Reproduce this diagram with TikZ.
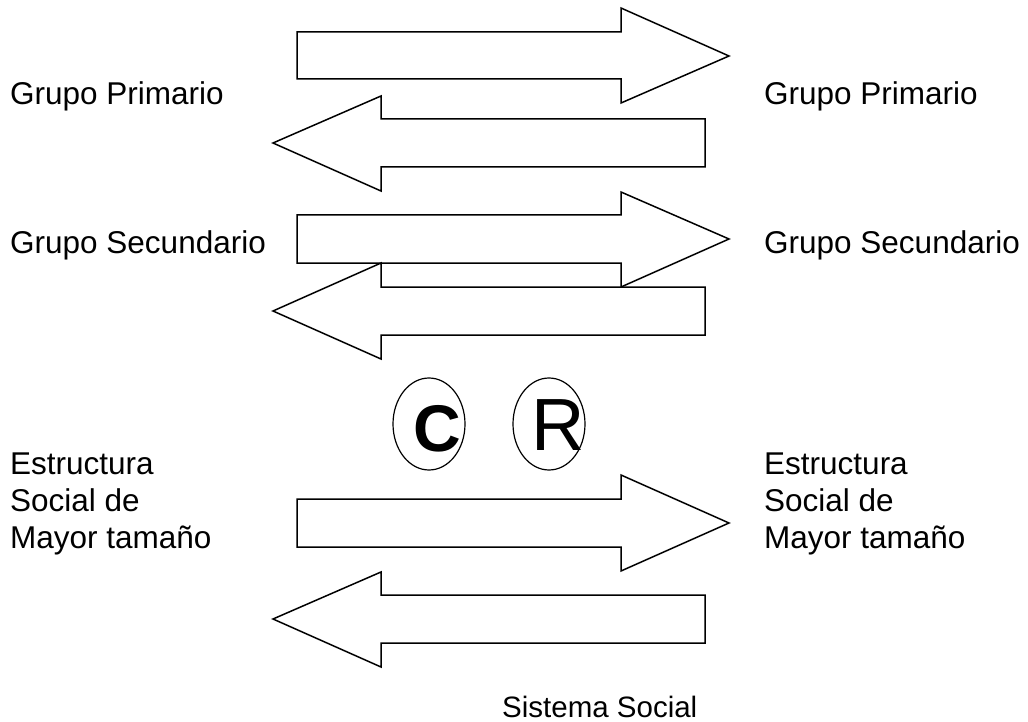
\documentclass[tikz,border=0pt]{standalone}
\usepackage{fontspec}
\setmainfont{Liberation Sans}
\begin{document}
\begin{tikzpicture}[x=1pt,y=-1pt,
  arrowshape/.style={draw=black,fill=white,line width=1.5pt,line join=miter},
  lbl/.style={anchor=base west,inner sep=0pt,font=\fontsize{31.5}{37}\selectfont,align=left},
  oval/.style={draw=black,line width=1.2pt}]
\useasboundingbox (0,0) rectangle (1028,722);
% right arrows
\draw[arrowshape] (297,32) -- (621,32) -- (621,8) -- (729,56) -- (621,103) -- (621,79) -- (297,79) -- cycle;
\draw[arrowshape] (297,215) -- (621,215) -- (621,192) -- (729,239) -- (621,287) -- (621,263) -- (297,263) -- cycle;
\draw[arrowshape] (297,499) -- (621,499) -- (621,475) -- (729,523) -- (621,571) -- (621,547) -- (297,547) -- cycle;
% left arrows
\draw[arrowshape] (705,119) -- (381,119) -- (381,96) -- (273,143) -- (381,191) -- (381,167) -- (705,167) -- cycle;
\draw[arrowshape] (705,287) -- (381,287) -- (381,263) -- (273,311) -- (381,359) -- (381,335) -- (705,335) -- cycle;
\draw[arrowshape] (705,595) -- (381,595) -- (381,572) -- (273,619) -- (381,667) -- (381,643) -- (705,643) -- cycle;
% ellipses
\draw[oval] (429,424) ellipse [x radius=36, y radius=46];
\draw[oval] (549,424) ellipse [x radius=36, y radius=46];
\node[anchor=base,inner sep=0pt,font=\fontsize{66}{66}\selectfont\bfseries] (c) at (437.5,451.5) {C};
\node[anchor=base,inner sep=0pt,font=\fontsize{74}{74}\selectfont] (r) at (558,450) {R};
% labels
\node[lbl] (gp1) at (10,105) {Grupo Primario};
\node[lbl] (gp2) at (764,105) {Grupo Primario};
\node[lbl] (gs1) at (10,253) {Grupo Secundario};
\node[lbl] (gs2) at (764,253) {Grupo Secundario};
\node[lbl] (es1) at (10,548) {Estructura\\Social de\\Mayor tamaño};
\node[lbl] (es2) at (764,548) {Estructura\\Social de\\Mayor tamaño};
\node[anchor=base west,inner sep=0pt,font=\fontsize{29.5}{35}\selectfont] (ss) at (502,717) {Sistema Social};
\end{tikzpicture}
\end{document}
